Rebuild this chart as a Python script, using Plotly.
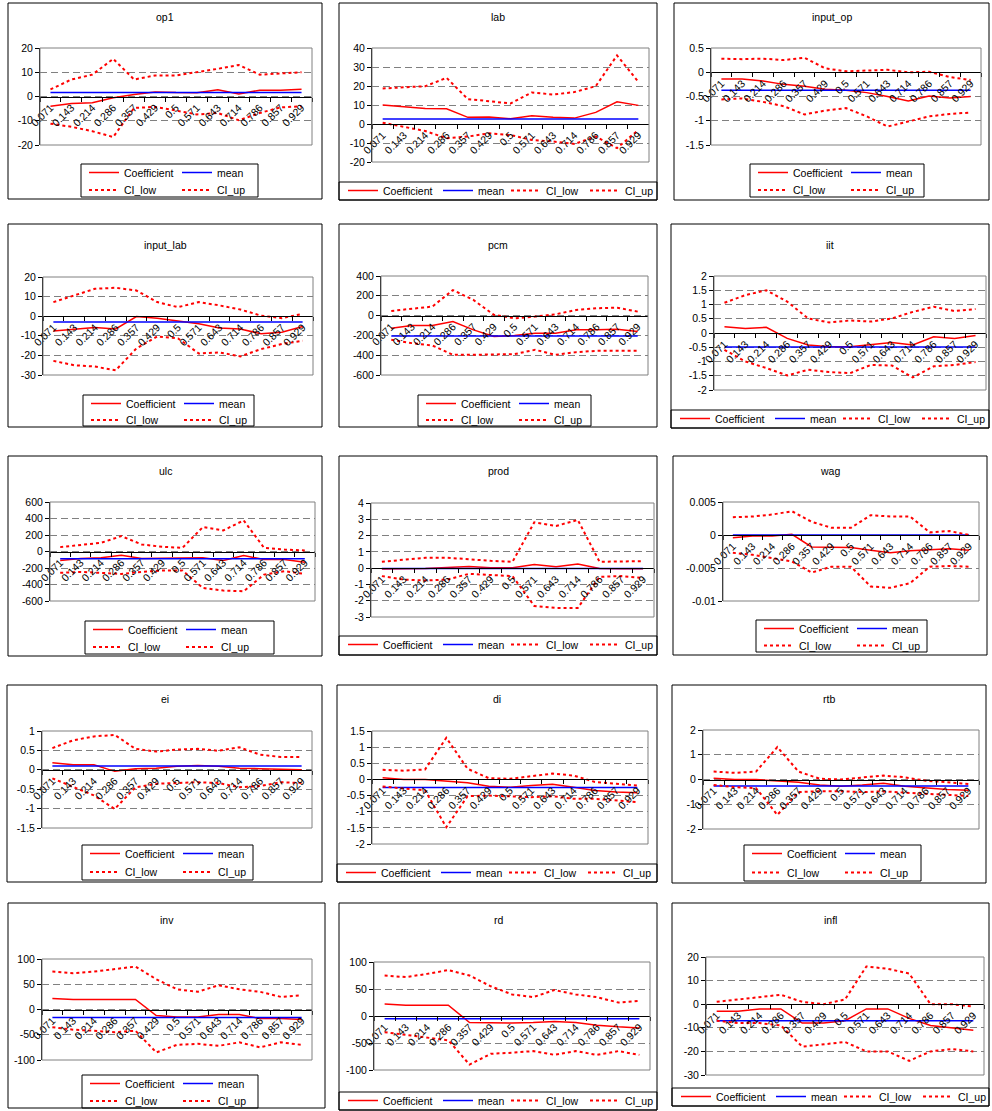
import plotly.graph_objects as go

W, H = 992, 1111
FONT = "Liberation Sans, Arial, sans-serif"
FS = 10.5

categories = ["0.071", "0.143", "0.214", "0.286", "0.357", "0.429", "0.5",
              "0.571", "0.643", "0.714", "0.786", "0.857", "0.929"]

# ---------------- series values ----------------
op1_coef = [-4.0, -2.9, -2.6, -0.5, 0.8, 1.9, 1.6, 1.5, 2.8, 1.0, 2.6, 2.6, 3.0]
op1_mean = 1.6
op1_low = [-11.2, -12.5, -14.3, -16.7, -4.7, -4.3, -5.8, -7.4, -6.8, -9.8, -6.8, -4.5, -4.0]
op1_up = [2.9, 7.0, 9.0, 15.5, 7.0, 8.7, 8.7, 10.0, 11.4, 13.0, 9.0, 9.5, 10.0]
op1_ticks = [-20, -10, 0, 10, 20]

lab_coef = [10.0, 9.0, 8.2, 8.0, 3.5, 3.7, 2.8, 4.4, 3.5, 3.1, 6.1, 11.7, 9.8]
lab_mean = 2.6
lab_low = [0.7, -1.7, -3.7, -7.5, -6.6, -4.9, -5.8, -8.4, -9.2, -10.5, -6.6, -12.7, -3.1]
lab_up = [18.7, 19.2, 19.9, 24.3, 13.1, 12.0, 10.8, 16.6, 15.5, 16.8, 19.9, 36.1, 22.2]
lab_ticks = [-20, -10, 0, 10, 20, 30, 40]

input_op_coef = [-0.14, -0.14, -0.18, -0.25, -0.29, -0.35, -0.37, -0.42, -0.50, -0.59, -0.49, -0.53, -0.50]
input_op_mean = -0.37
input_op_low = [-0.56, -0.54, -0.61, -0.70, -0.87, -0.79, -0.74, -0.91, -1.12, -1.01, -0.91, -0.86, -0.83]
input_op_up = [0.28, 0.27, 0.28, 0.25, 0.30, 0.08, 0.02, 0.04, 0.05, 0.0, 0.01, -0.10, -0.16]
input_op_ticks = [-1.5, -1, -0.5, 0, 0.5]

input_lab_coef = [-7.5, -6.8, -5.8, -6.5, -0.2, -1.0, -2.4, -3.9, -6.0, -6.5, -9.0, -8.2, -5.3]
input_lab_mean = -2.9
input_lab_low = [-22.8, -25.0, -25.7, -27.6, -16.4, -10.3, -11.3, -19.0, -18.5, -20.5, -16.8, -14.2, -12.5]
input_lab_up = [7.2, 10.6, 14.0, 14.5, 13.1, 7.2, 4.6, 7.2, 5.5, 3.4, 0.3, -1.0, 1.2]
input_lab_ticks = [-30, -20, -10, 0, 10, 20]

pcm_coef = [-128, -101, -101, -60, -144, -211, -201, -178, -178, -144, -144, -138, -161]
pcm_mean = -205
pcm_low = [-245, -278, -302, -396, -396, -396, -389, -346, -396, -369, -356, -356, -356]
pcm_up = [47, 67, 91, 258, 158, 7, -27, -10, 13, 57, 74, 80, 40]
pcm_ticks = [-600, -400, -200, 0, 200, 400]

iit_coef = [0.22, 0.16, 0.20, -0.19, -0.42, -0.48, -0.48, -0.40, -0.33, -0.42, -0.13, -0.19, -0.09]
iit_mean = -0.49
iit_low = [-0.59, -1.00, -1.23, -1.49, -1.29, -1.37, -1.41, -1.12, -1.14, -1.56, -1.17, -1.12, -1.02]
iit_up = [1.06, 1.33, 1.50, 1.10, 0.51, 0.37, 0.44, 0.40, 0.51, 0.74, 0.92, 0.77, 0.84]
iit_ticks = [-2, -1.5, -1, -0.5, 0, 0.5, 1, 1.5, 2]

ulc_coef = [-109, -85, -77, -45, -85, -85, -85, -77, -109, -49, -97, -97, -130]
ulc_mean = -89
ulc_low = [-259, -247, -259, -272, -247, -231, -231, -442, -474, -482, -280, -239, -272]
ulc_up = [53, 77, 105, 186, 85, 57, 45, 296, 255, 377, 45, 24, 12]
ulc_ticks = [-600, -400, -200, 0, 200, 400, 600]

prod_coef = [-0.06, -0.06, -0.02, 0.04, 0.10, 0.02, 0.02, 0.23, 0.08, 0.25, -0.02, -0.04, -0.04]
prod_mean = -0.02
prod_low = [-0.49, -0.70, -0.76, -0.70, -0.35, -0.43, -0.49, -2.32, -2.44, -2.44, -0.53, -0.49, -0.60]
prod_up = [0.39, 0.53, 0.64, 0.64, 0.53, 0.45, 0.39, 2.81, 2.59, 2.96, 0.39, 0.43, 0.43]
prod_ticks = [-3, -2, -1, 0, 1, 2, 3, 4]

wag_coef = [-0.0004, -0.00015, -0.00015, 0.0001, -0.0018, -0.0018, -0.0019, -0.0023, -0.0027, -0.0024, -0.0022, -0.0021, -0.0023]
wag_mean = 0.0
wag_low = [-0.0027, -0.0030, -0.0035, -0.0040, -0.0057, -0.0048, -0.0048, -0.0078, -0.0080, -0.0073, -0.0048, -0.0047, -0.0048]
wag_up = [0.0027, 0.0028, 0.0031, 0.0036, 0.0020, 0.0011, 0.0011, 0.0030, 0.0028, 0.0028, 0.0004, 0.0006, 0.0]
wag_ticks = [-0.01, -0.005, 0, 0.005]

ei_coef = [0.18, 0.13, 0.13, -0.04, 0.03, 0.04, 0.09, 0.11, 0.09, 0.04, 0.03, 0.01, 0.0]
ei_mean = 0.095
ei_low = [-0.22, -0.45, -0.66, -1.01, -0.45, -0.36, -0.34, -0.32, -0.34, -0.45, -0.42, -0.32, -0.34]
ei_up = [0.56, 0.76, 0.86, 0.90, 0.54, 0.47, 0.52, 0.54, 0.49, 0.58, 0.39, 0.33, 0.33]
ei_ticks = [-1.5, -1, -0.5, 0, 0.5, 1]

di_coef = [0.05, 0.0, 0.0, -0.05, -0.10, -0.21, -0.24, -0.19, -0.15, -0.24, -0.34, -0.39, -0.41]
di_mean = -0.25
di_low = [-0.22, -0.29, -0.34, -1.48, -0.52, -0.50, -0.52, -0.55, -0.52, -0.60, -0.60, -0.65, -0.70]
di_up = [0.30, 0.27, 0.31, 1.29, 0.33, 0.04, 0.02, 0.10, 0.18, 0.12, -0.08, -0.13, -0.19]
di_ticks = [-2, -1.5, -1, -0.5, 0, 0.5, 1, 1.5]

rtb_coef = [0.05, 0.0, 0.0, -0.04, -0.11, -0.22, -0.27, -0.22, -0.15, -0.27, -0.35, -0.40, -0.43]
rtb_mean = -0.26
rtb_low = [-0.22, -0.31, -0.35, -1.43, -0.51, -0.47, -0.47, -0.51, -0.48, -0.54, -0.58, -0.62, -0.67]
rtb_up = [0.32, 0.27, 0.32, 1.31, 0.32, 0.03, 0.0, 0.09, 0.16, 0.09, -0.05, -0.11, -0.18]
rtb_ticks = [-2, -1, 0, 1, 2]

inv_coef = [22, 20, 20, 20, 20, -12, -15, -15, -10, -10, -18, -18, -20]
inv_mean = -16
inv_low = [-35, -40, -42, -45, -42, -85, -70, -68, -72, -65, -75, -65, -70]
inv_up = [75, 72, 75, 80, 85, 60, 40, 35, 48, 40, 35, 25, 28]
inv_ticks = [-100, -50, 0, 50, 100]

rd_coef = [22, 20, 20, 20, -12, -13, -13, -12, -10, -12, -17, -20, -22]
rd_mean = -5
rd_low = [-30, -35, -40, -45, -90, -70, -68, -65, -72, -65, -72, -65, -72]
rd_up = [75, 72, 78, 85, 75, 55, 40, 35, 48, 40, 35, 25, 28]
rd_ticks = [-100, -50, 0, 50, 100]

infl_coef = [-3, -3, -2, -2, -8, -8, -7, -2, -2, -6, -9, -10, -11]
infl_mean = -7
infl_low = [-7, -8, -8, -9, -18, -17, -16, -20, -20, -24, -20, -19, -20]
infl_up = [1, 2, 3, 4, 1, 0, 2, 16, 15, 13, 0, 0, -1]
infl_ticks = [-30, -20, -10, 0, 10, 20]

# ---------------- panel layout (pixels) ----------------
# frame: chart-area border, plot: plot-area box, ty: title centre,
# leg: legend box, kind: "grid" (2x2 legend) or "row" (single row legend)
panels = [
    ("op1", op1_coef, op1_mean, op1_low, op1_up, op1_ticks,
     (8, 3, 322, 199), (40, 48, 312, 145), 17, (81, 164, 258, 197), "grid"),
    ("lab", lab_coef, lab_mean, lab_low, lab_up, lab_ticks,
     (339, 3, 657, 200), (372, 48, 649, 162), 17, (339, 182, 657, 200), "row"),
    ("input_op", input_op_coef, input_op_mean, input_op_low, input_op_up, input_op_ticks,
     (674, 3, 989, 200), (711, 48, 981, 145), 17, (750, 164, 924, 197), "grid"),
    ("input_lab", input_lab_coef, input_lab_mean, input_lab_low, input_lab_up, input_lab_ticks,
     (8, 224, 322, 427), (43, 277, 313, 375), 245, (83, 395, 254, 426), "grid"),
    ("pcm", pcm_coef, pcm_mean, pcm_low, pcm_up, pcm_ticks,
     (339, 224, 657, 427), (381, 276, 648, 375), 245, (418, 395, 591, 426), "grid"),
    ("iit", iit_coef, iit_mean, iit_low, iit_up, iit_ticks,
     (671, 224, 989, 428), (714, 276, 986, 390), 245, (671, 410, 989, 428), "row"),
    ("ulc", ulc_coef, ulc_mean, ulc_low, ulc_up, ulc_ticks,
     (8, 456, 322, 656), (50, 502, 315, 601), 471, (85, 621, 274, 654), "grid"),
    ("prod", prod_coef, prod_mean, prod_low, prod_up, prod_ticks,
     (339, 456, 657, 655), (371, 503, 654, 617), 471, (339, 636, 657, 655), "row"),
    ("wag", wag_coef, wag_mean, wag_low, wag_up, wag_ticks,
     (673, 456, 987, 655), (723, 502, 979, 601), 471, (756, 620, 927, 652), "grid"),
    ("ei", ei_coef, ei_mean, ei_low, ei_up, ei_ticks,
     (7, 685, 322, 882), (42, 731, 312, 828), 699, (82, 845, 253, 880), "grid"),
    ("di", di_coef, di_mean, di_low, di_up, di_ticks,
     (337, 685, 657, 882), (372, 731, 648, 844), 699, (337, 864, 657, 882), "row"),
    ("rtb", rtb_coef, rtb_mean, rtb_low, rtb_up, rtb_ticks,
     (672, 685, 986, 883), (703, 730, 979, 829), 699, (744, 845, 921, 881), "grid"),
    ("inv", inv_coef, inv_mean, inv_low, inv_up, inv_ticks,
     (8, 903, 325, 1108), (42, 959, 312, 1060), 920, (82, 1075, 258, 1108), "grid"),
    ("rd", rd_coef, rd_mean, rd_low, rd_up, rd_ticks,
     (339, 903, 657, 1110), (374, 962, 650, 1070), 920, (339, 1092, 657, 1110), "row"),
    ("infl", infl_coef, infl_mean, infl_low, infl_up, infl_ticks,
     (672, 903, 989, 1106), (706, 957, 984, 1075), 920, (672, 1088, 989, 1106), "row"),
]


def fx(px):
    return px / W


def fy(py):
    return 1 - py / H


def fmt(v):
    return f"{v:g}"


RED = "#FF0000"
BLUE = "#0000FF"
GRAY = "#808080"

fig = go.Figure()
layout = dict(width=W, height=H,
              margin=dict(l=0, r=0, t=0, b=0, autoexpand=False),
              paper_bgcolor="white", plot_bgcolor="white",
              font=dict(family=FONT, size=FS, color="black"),
              showlegend=True, shapes=[], annotations=[])

legend_count = 0


def new_legend(x_px, y_px):
    global legend_count
    legend_count += 1
    key = "legend" if legend_count == 1 else f"legend{legend_count}"
    layout[key] = dict(x=fx(x_px), y=fy(y_px), xanchor="left", yanchor="top",
                       orientation="h", bgcolor="rgba(0,0,0,0)", borderwidth=0,
                       font=dict(family=FONT, size=FS), itemclick=False,
                       itemdoubleclick=False, tracegroupgap=0, itemwidth=30)
    return key


for i, (name, coef, mean, low, up, ticks, frame, plot, ty, leg, kind) in enumerate(panels):
    k = "" if i == 0 else str(i + 1)
    L, T, R, B = plot
    ymin, ymax = ticks[0], ticks[-1]
    d0, d1 = fy(B), fy(T)
    zero_pos = d0 + (0 - ymin) / (ymax - ymin) * (d1 - d0)

    layout[f"xaxis{k}"] = dict(
        domain=[fx(L), fx(R)], type="category", range=[-0.5, len(categories) - 0.5],
        anchor="free", position=zero_pos, showline=True, linecolor="black",
        linewidth=1, ticks="outside", ticklen=4, tickcolor="black",
        tickson="boundaries", tickangle=-45, showgrid=False, zeroline=False,
        tickfont=dict(family=FONT, size=FS), fixedrange=True)
    layout[f"yaxis{k}"] = dict(
        domain=[d0, d1], range=[ymin, ymax], anchor=f"x{k}",
        tickmode="array", tickvals=ticks, ticktext=[fmt(t) for t in ticks],
        showline=True, linecolor="black", linewidth=1, ticks="outside",
        ticklen=4, tickcolor="black", showgrid=True, gridcolor=GRAY,
        griddash="7px,4px", gridwidth=1, zeroline=False,
        tickfont=dict(family=FONT, size=FS), fixedrange=True)

    # legends
    lx0, ly0, lx1, ly1 = leg
    if kind == "grid":
        la = new_legend(lx0 + 3, ly0 - 6)
        lb = new_legend(lx0 + 3, (ly0 + ly1) / 2 - 5)
        groups = [la, la, lb, lb]
        widths = [48, 30, 48, 30]
    else:
        la = new_legend(lx0 + 4, ly0 - 6)
        groups = [la, la, la, la]
        widths = [50, 23, 34, 30]

    series = [
        ("Coefficient", coef, dict(color=RED, width=1.5)),
        ("mean", [mean] * len(categories), dict(color=BLUE, width=1.5)),
        ("CI_low", low, dict(color=RED, width=2, dash="3px,3px")),
        ("CI_up", up, dict(color=RED, width=2, dash="3px,3px")),
    ]
    for (sname, vals, line), g, w in zip(series, groups, widths):
        fig.add_trace(go.Scatter(
            x=categories, y=vals, mode="lines", name=sname, line=line,
            xaxis=f"x{k}", yaxis=f"y{k}", legend=g, legendwidth=w,
            hoverinfo="skip"))

    # plot-area box
    layout["shapes"].append(dict(type="rect", xref=f"x{k} domain", yref=f"y{k} domain",
                                 x0=0, x1=1, y0=0, y1=1,
                                 line=dict(color=GRAY, width=1), layer="above"))
    # legend box
    layout["shapes"].append(dict(type="rect", xref="paper", yref="paper",
                                 x0=fx(lx0), x1=fx(lx1), y0=fy(ly1), y1=fy(ly0),
                                 line=dict(color="black", width=1)))
    # chart frame
    fx0, fy0, fx1, fy1 = frame
    layout["shapes"].append(dict(type="rect", xref="paper", yref="paper",
                                 x0=fx(fx0), x1=fx(fx1), y0=fy(fy1), y1=fy(fy0),
                                 line=dict(color="black", width=1)))
    # title
    layout["annotations"].append(dict(text=name, xref="paper", yref="paper",
                                      x=fx((fx0 + fx1) / 2), y=fy(ty),
                                      xanchor="center", yanchor="middle",
                                      showarrow=False,
                                      font=dict(family=FONT, size=FS)))

fig.update_layout(**layout)
fig.write_html("out.html")
